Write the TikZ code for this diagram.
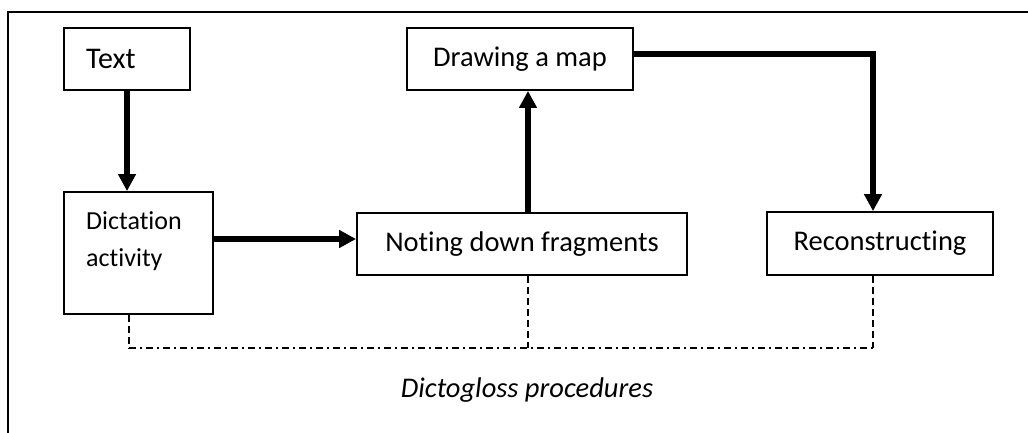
\documentclass[tikz,border=0pt]{standalone}
\usepackage{fontspec}
\setmainfont[Ligatures=NoCommon]{Carlito}
\usetikzlibrary{arrows.meta}
\begin{document}
\begin{tikzpicture}[x=1pt,y=-1pt,
  box/.style={draw,line width=1.8pt,inner sep=0pt,font=\fontsize{28.5}{34}\selectfont},
  arr/.style={line width=5.5pt,-{Triangle[width=17pt,length=17pt]}},
  dashv/.style={line width=1.6pt,dash pattern=on 7pt off 4pt},
  dashdotline/.style={line width=1.6pt,dash pattern=on 7pt off 4pt on 2pt off 4pt},
  frame/.style={line width=1.8pt}]
\useasboundingbox (0,0) rectangle (1028,432);
% frame
\coordinate (fbl) at (8,440);
\coordinate (ftl) at (8,12);
\coordinate (ftr) at (1040,12);
\draw[frame] (fbl) -- (ftl) -- (ftr);
% boxes
\node[box,minimum width=126pt,minimum height=62pt,font=\fontsize{30}{36}\selectfont] (text) at (127,59) {\hspace*{-32pt}Text};
\node[box,minimum width=149pt,minimum height=122pt] (dict) at (138.5,253) {};
\node[anchor=north west,inner sep=0pt,align=left,font=\fontsize{26}{37}\selectfont] (dictlabel) at (86,211.5) {Dictation\\activity};
\node[box,minimum width=330pt,minimum height=62pt] (noting) at (522,244) {Noting down fragments};
\node[box,minimum width=226pt,minimum height=62pt] (drawing) at (520,59) {Drawing a map};
\node[box,minimum width=226pt,minimum height=63pt] (recon) at (880,243.5) {Reconstructing};
% helper coordinates
\coordinate (arrowy) at (300,239);
\coordinate (corner) at (873,54);
\coordinate (dl) at (129,348);
\coordinate (dm) at (528,348);
\coordinate (dr) at (873,348);
% arrows
\draw[arr] (text.south) -- (text.south |- dict.north);
\draw[arr] (dict.east |- arrowy) -- (noting.west |- arrowy);
\draw[arr] (noting.north -| dm) -- (drawing.south -| dm);
\draw[arr] (drawing.east |- corner) -- (corner) -- (recon.north -| corner);
% dashed
\draw[dashv] (dict.south -| dl) -- (dl);
\draw[dashv] (noting.south -| dm) -- (dm);
\draw[dashv] (recon.south -| dr) -- (dr);
\draw[dashdotline] (dl) -- (dr);
% caption
\node[anchor=base,inner sep=0pt,font=\fontsize{28.5}{34}\selectfont\itshape] (caption) at (527,397) {Dictogloss procedures};
\end{tikzpicture}
\end{document}
